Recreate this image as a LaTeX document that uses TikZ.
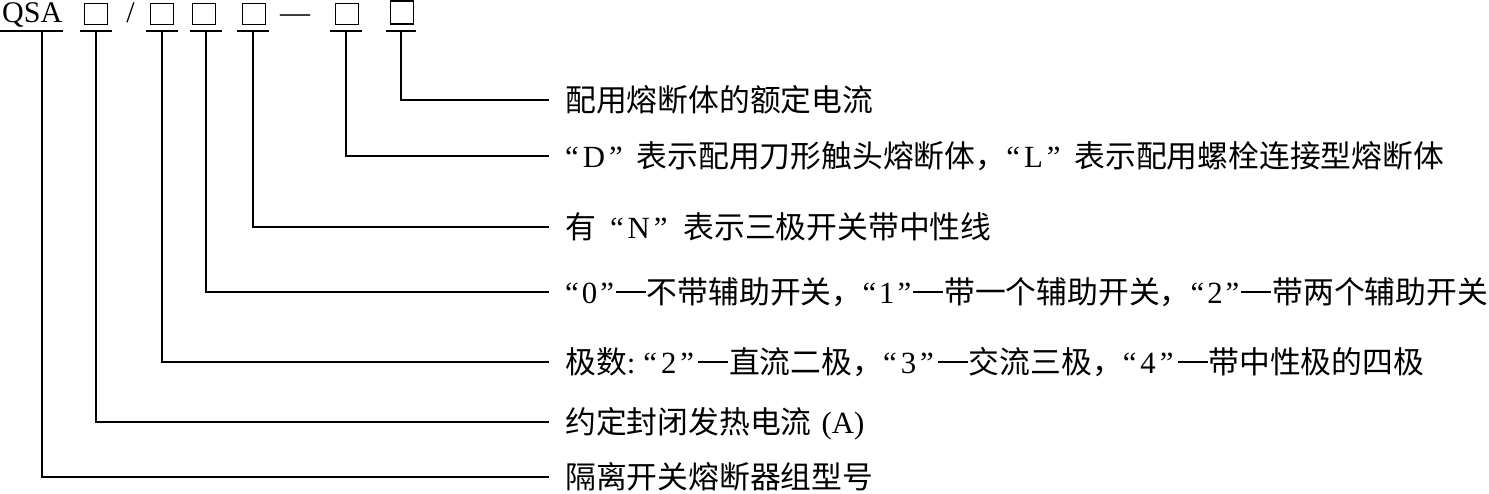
\documentclass[tikz,border=0pt]{standalone}
\usepackage{fontspec}
\setmainfont{Liberation Serif}
\newfontfamily\cjk{Noto Sans CJK SC}
\newcommand{\zh}[1]{{\cjk #1}}
\newcommand{\qt}[2][4pt]{“\kern#1#2\kern#1”}
\newcommand{\emd}{\kern2pt\rule[11pt]{30pt}{1.5pt}\kern1pt}
\begin{document}
\begin{tikzpicture}[x=1pt,y=-1pt]
\tikzset{
  codebox/.style={draw, line width=1pt, minimum width=23pt, minimum height=21pt, inner sep=0pt},
  lead/.style={line width=1.2pt},
  desc/.style={anchor=west, inner xsep=16pt, inner ysep=0pt, text height=27pt, text depth=4pt,
    font=\fontsize{30.8}{36}\selectfont},
  top/.style={anchor=base, inner sep=0pt, font=\fontsize{30}{32}\selectfont},
}
\useasboundingbox (0,0) rectangle (1489,493);

% top row
\node[anchor=base west, inner sep=0pt, font=\fontsize{30}{32}\selectfont] (qsa) at (2,22) {QSA};
\node[codebox] (b1) at (95.5,14) {};
\node[top] (slash) at (130.5,22) {/};
\node[codebox] (b2) at (161.5,14) {};
\node[codebox] (b3) at (204,14) {};
\node[codebox] (b4) at (253.5,14) {};
\node[top] (dash) at (295,22) {—};
\node[codebox] (b5) at (346.5,14) {};
\node[codebox, line width=1.7pt, minimum height=23pt] (b6) at (402,12.5) {};

% descriptions
\node[desc] (t1) at (549,100) {\zh{配用熔断体的额定电流}};
\node[desc] (t2) at (549,156) {\qt{D}\kern14pt\zh{表示配用刀形触头熔断体，}\qt{L}\kern14pt\zh{表示配用螺栓连接型熔断体}};
\node[desc] (t3) at (549,227) {\zh{有}\kern14pt\qt{N}\kern16pt\zh{表示三极开关带中性线}};
\node[desc] (t4) at (549,292) {\qt[3pt]{0}\emd\zh{不带辅助开关，}\qt[3pt]{1}\emd\zh{带一个辅助开关，}\qt[3pt]{2}\emd\zh{带两个辅助开关}};
\node[desc] (t5) at (549,362) {\zh{极数}:\kern8pt\qt{2}\kern2pt\emd\zh{直流二极，}\qt{3}\kern2pt\emd\zh{交流三极，}\qt{4}\kern2pt\emd\zh{带中性极的四极}};
\node[desc] (t6) at (549,422) {\zh{约定封闭发热电流}\kern10pt(A)};
\node[desc] (t7) at (549,477) {\zh{隔离开关熔断器组型号}};

% underline attachment points
\coordinate (u0) at (42,31);
\coordinate (u1) at (96,31);
\coordinate (u2) at (162,31);
\coordinate (u3) at (206,31);
\coordinate (u4) at (253,31);
\coordinate (u5) at (346,31);
\coordinate (u6) at (401,31);

% underlines
\draw[lead] (0,31) -- (63,31);
\foreach \u/\w in {u1/16,u2/16,u3/16,u4/16,u5/16,u6/15}{
  \draw[lead] ([xshift=-\w pt]\u) -- ([xshift=\w pt]\u);
}

% leaders
\draw[lead] (u6) |- (t1.west);
\draw[lead] (u5) |- (t2.west);
\draw[lead] (u4) |- (t3.west);
\draw[lead] (u3) |- (t4.west);
\draw[lead] (u2) |- (t5.west);
\draw[lead] (u1) |- (t6.west);
\draw[lead] (u0) |- (t7.west);
\end{tikzpicture}
\end{document}
